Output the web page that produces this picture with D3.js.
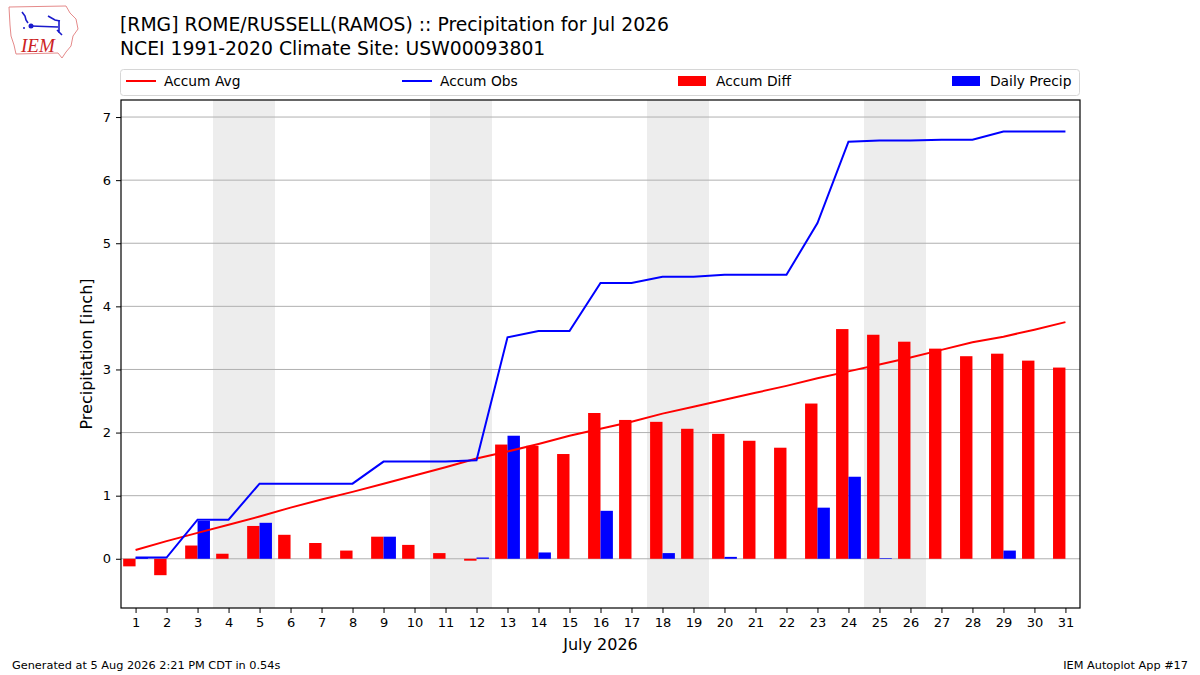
<!DOCTYPE html>
<html>
<head>
<meta charset="utf-8">
<script src="https://cdn.jsdelivr.net/npm/d3@7"></script>
<style>
  body { margin: 0; background: #fff; }
  svg { display: block; font-family: "DejaVu Sans", sans-serif; }
  .tick text { font-size: 13px; fill: #000; }
</style>
</head>
<body>
<svg id="chart" width="1200" height="675"></svg>
<script>
const days = d3.range(1, 32);
const weekendStarts = [4, 11, 18, 25];

const dailyPrecip = [0.02, 0, 0.60, 0, 0.57, 0, 0, 0, 0.35, 0, 0, 0.02, 1.95, 0.10, 0, 0.76,
  0, 0.09, 0, 0.03, 0, 0, 0.81, 1.30, 0.01, 0, 0, 0, 0.13, 0, 0];
const accumObs = [0.02, 0.02, 0.62, 0.62, 1.19, 1.19, 1.19, 1.19, 1.54, 1.54, 1.54, 1.56, 3.51, 3.61, 3.61, 4.37,
  4.37, 4.47, 4.47, 4.50, 4.50, 4.50, 5.32, 6.61, 6.63, 6.63, 6.64, 6.64, 6.77, 6.77, 6.77];
const accumAvg = [0.14, 0.28, 0.41, 0.54, 0.67, 0.81, 0.94, 1.06, 1.19, 1.32, 1.45, 1.59, 1.70, 1.82, 1.95, 2.06,
  2.17, 2.30, 2.41, 2.52, 2.63, 2.74, 2.86, 2.97, 3.08, 3.19, 3.31, 3.43, 3.52, 3.63, 3.75];
const accumDiff = [-0.12, -0.26, 0.21, 0.08, 0.52, 0.38, 0.25, 0.13, 0.35, 0.22, 0.09, -0.03, 1.81, 1.79, 1.66, 2.31,
  2.20, 2.17, 2.06, 1.98, 1.87, 1.76, 2.46, 3.64, 3.55, 3.44, 3.33, 3.21, 3.25, 3.14, 3.03];
const yTicks = [0, 1, 2, 3, 4, 5, 6, 7];

const svg = d3.select("#chart");
const box = { left: 121, right: 1080, top: 100, bottom: 608 };

const x = d3.scaleLinear().domain([0.53, 31.47]).range([box.left, box.right]);
const y = d3.scaleLinear().domain([-0.78, 7.27]).range([box.bottom, box.top]);

// weekend shading
svg.append("g").selectAll("rect")
  .data(weekendStarts)
  .join("rect")
  .attr("x", (d) => x(d - 0.5))
  .attr("width", (d) => x(d + 1.5) - x(d - 0.5))
  .attr("y", box.top)
  .attr("height", box.bottom - box.top)
  .attr("fill", "#ededed");

// grid
svg.append("g").selectAll("line")
  .data(yTicks)
  .join("line")
  .attr("x1", box.left).attr("x2", box.right)
  .attr("y1", (d) => y(d)).attr("y2", (d) => y(d))
  .attr("stroke", "#b0b0b0").attr("stroke-width", 1);

// bars
const barW = 0.4;
svg.append("g").selectAll("rect")
  .data(days)
  .join("rect")
  .attr("x", (d) => x(d - barW))
  .attr("width", x(barW) - x(0))
  .attr("y", (d, i) => y(Math.max(0, accumDiff[i])))
  .attr("height", (d, i) => Math.abs(y(accumDiff[i]) - y(0)))
  .attr("fill", "#ff0000");

svg.append("g").selectAll("rect")
  .data(days)
  .join("rect")
  .attr("x", (d) => x(d))
  .attr("width", x(barW) - x(0))
  .attr("y", (d, i) => y(dailyPrecip[i]))
  .attr("height", (d, i) => y(0) - y(dailyPrecip[i]))
  .attr("fill", "#0000ff");

// lines
const line = (vals) => d3.line().x((d) => x(d)).y((d, i) => y(vals[i]))(days);
svg.append("path").attr("d", line(accumAvg))
  .attr("fill", "none").attr("stroke", "#ff0000").attr("stroke-width", 2);
svg.append("path").attr("d", line(accumObs))
  .attr("fill", "none").attr("stroke", "#0000ff").attr("stroke-width", 2);

// frame
svg.append("rect")
  .attr("x", box.left).attr("y", box.top)
  .attr("width", box.right - box.left).attr("height", box.bottom - box.top)
  .attr("fill", "none").attr("stroke", "#000").attr("stroke-width", 1.2);

// axes
const xAxis = svg.append("g")
  .attr("transform", `translate(0,${box.bottom})`)
  .call(d3.axisBottom(x).tickValues(days).tickFormat(d3.format("d")).tickSize(5).tickPadding(5));
const yAxis = svg.append("g")
  .attr("transform", `translate(${box.left},0)`)
  .call(d3.axisLeft(y).tickValues(yTicks).tickFormat(d3.format("d")).tickSize(5).tickPadding(5));
[xAxis, yAxis].forEach((g) => {
  g.select(".domain").remove();
  g.selectAll(".tick line").attr("stroke", "#000");
  g.selectAll(".tick text").attr("font-family", "DejaVu Sans");
});

svg.append("text")
  .attr("x", (box.left + box.right) / 2).attr("y", 650)
  .attr("text-anchor", "middle").attr("font-size", 16)
  .text("July 2026");
svg.append("text")
  .attr("transform", `translate(92,${(box.top + box.bottom) / 2}) rotate(-90)`)
  .attr("text-anchor", "middle").attr("font-size", 16)
  .text("Precipitation [inch]");

// titles
svg.append("text").attr("x", 120).attr("y", 31).attr("font-size", 18.8)
  .text("[RMG] ROME/RUSSELL(RAMOS) :: Precipitation for Jul 2026");
svg.append("text").attr("x", 120).attr("y", 55).attr("font-size", 18.8)
  .text("NCEI 1991-2020 Climate Site: USW00093801");

// legend
const legend = svg.append("g");
legend.append("rect")
  .attr("x", 120.5).attr("y", 69.5).attr("width", 959).attr("height", 26)
  .attr("rx", 3).attr("fill", "#fff").attr("stroke", "#d6d6d6");
const legendItems = [
  { label: "Accum Avg", color: "#ff0000", type: "line", x0: 126 },
  { label: "Accum Obs", color: "#0000ff", type: "line", x0: 402 },
  { label: "Accum Diff", color: "#ff0000", type: "patch", x0: 678 },
  { label: "Daily Precip", color: "#0000ff", type: "patch", x0: 952 }
];
legendItems.forEach((item) => {
  if (item.type === "line") {
    legend.append("line")
      .attr("x1", item.x0).attr("x2", item.x0 + 30)
      .attr("y1", 81).attr("y2", 81)
      .attr("stroke", item.color).attr("stroke-width", 2);
  } else {
    legend.append("rect")
      .attr("x", item.x0).attr("y", 76).attr("width", 28).attr("height", 10)
      .attr("fill", item.color);
  }
  legend.append("text")
    .attr("x", item.x0 + 38).attr("y", 86).attr("font-size", 13.8)
    .text(item.label);
});

// footer
svg.append("text").attr("x", 12).attr("y", 669).attr("font-size", 11.3)
  .text("Generated at 5 Aug 2026 2:21 PM CDT in 0.54s");
svg.append("text").attr("x", 1188).attr("y", 669).attr("font-size", 11.3)
  .attr("text-anchor", "end").text("IEM Autoplot App #17");

// logo
const logo = svg.append("g");
logo.append("path")
  .attr("d", "M9,7 L66,6 L70,13 L76,19 L78,29 L73,36 L71,46 L66,52 L62,58 L58,53 L16,54 L14,45 L11,36 L10,25 Z")
  .attr("fill", "none").attr("stroke", "#e58a8a").attr("stroke-width", 1);
logo.append("text").attr("x", 21).attr("y", 52)
  .attr("font-family", "Liberation Serif, serif").attr("font-style", "italic")
  .attr("font-size", 19).attr("fill", "#cc2222").text("IEM");
logo.append("path")
  .attr("d", "M22,12 L25,16 L26,20 L28,23 M31,26 L58,27 M48,16 L55,20 L60,21 M59,20 L59,33 M57,30 L62,35")
  .attr("fill", "none").attr("stroke", "#1a1acc").attr("stroke-width", 1.6);
logo.append("circle").attr("cx", 31).attr("cy", 26).attr("r", 2.5).attr("fill", "#1a1acc");
logo.append("circle").attr("cx", 24).attr("cy", 28).attr("r", 1).attr("fill", "#1a1acc");
</script>
</body>
</html>
